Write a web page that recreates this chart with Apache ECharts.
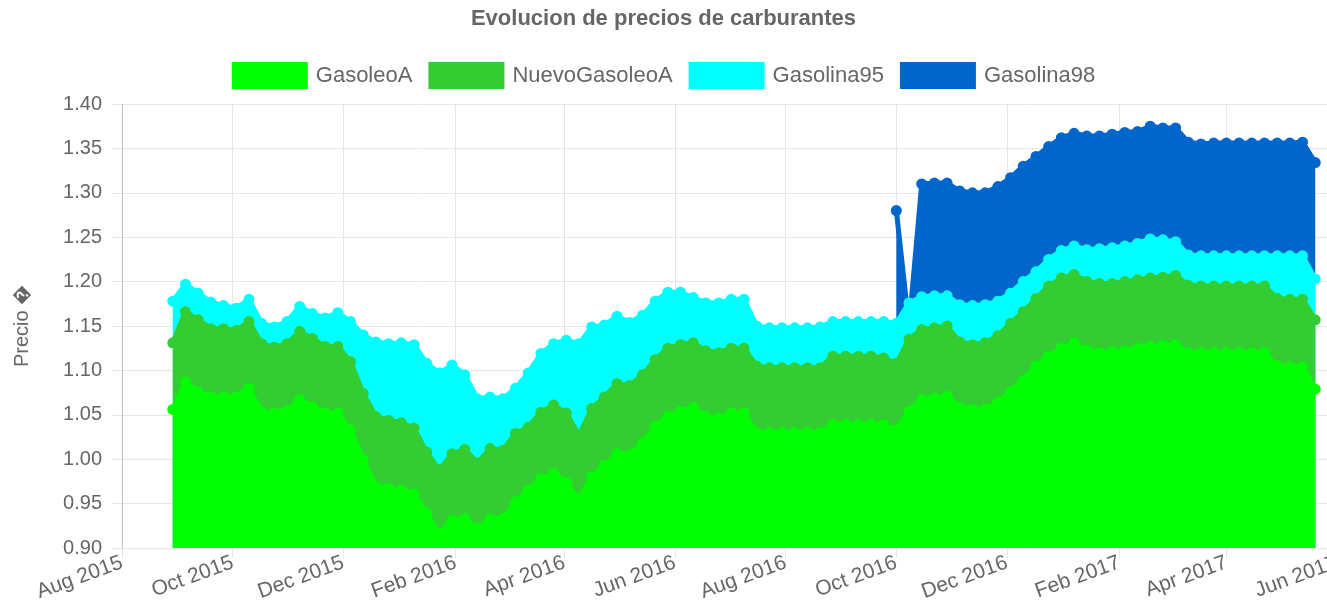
<!DOCTYPE html>
<html>
<head>
<meta charset="utf-8">
<script src="https://cdn.jsdelivr.net/npm/echarts@6/dist/echarts.min.js"></script>
<style>
  html, body { margin: 0; padding: 0; background: #fff; }
  #chart { width: 1327px; height: 605px; }
</style>
</head>
<body>
<div id="chart"></div>
<script>
// Weekly observation dates
const dates = [
  '2015-08-29','2015-09-05','2015-09-12','2015-09-19','2015-09-26','2015-10-03','2015-10-10','2015-10-17','2015-10-24','2015-10-31',
  '2015-11-07','2015-11-14','2015-11-21','2015-11-28','2015-12-05','2015-12-12','2015-12-19','2015-12-26','2016-01-02','2016-01-09',
  '2016-01-16','2016-01-23','2016-01-30','2016-02-06','2016-02-13','2016-02-20','2016-02-27','2016-03-05','2016-03-12','2016-03-19',
  '2016-03-26','2016-04-02','2016-04-09','2016-04-16','2016-04-23','2016-04-30','2016-05-07','2016-05-14','2016-05-21','2016-05-28',
  '2016-06-04','2016-06-11','2016-06-18','2016-06-25','2016-07-02','2016-07-09','2016-07-16','2016-07-23','2016-07-30','2016-08-06',
  '2016-08-13','2016-08-20','2016-08-27','2016-09-03','2016-09-10','2016-09-17','2016-09-24','2016-10-01','2016-10-08','2016-10-15',
  '2016-10-22','2016-10-29','2016-11-05','2016-11-12','2016-11-19','2016-11-26','2016-12-03','2016-12-10','2016-12-17','2016-12-24',
  '2016-12-31','2017-01-07','2017-01-14','2017-01-21','2017-01-28','2017-02-04','2017-02-11','2017-02-18','2017-02-25','2017-03-04',
  '2017-03-11','2017-03-18','2017-03-25','2017-04-01','2017-04-08','2017-04-15','2017-04-22','2017-04-29','2017-05-06','2017-05-13',
  '2017-05-20'
];

const gasoleoA = [
  1.056,1.087,1.076,1.070,1.070,1.070,1.080,1.053,1.052,1.055,
  1.067,1.059,1.052,1.052,1.033,0.999,0.969,0.967,0.965,0.961,
  0.939,0.916,0.931,0.933,0.922,0.933,0.933,0.952,0.965,0.978,
  0.984,0.974,0.954,0.980,0.993,1.006,1.005,1.018,1.037,1.048,
  1.054,1.058,1.048,1.046,1.052,1.052,1.030,1.030,1.030,1.030,
  1.030,1.030,1.039,1.039,1.039,1.039,1.039,1.033,1.054,1.067,
  1.069,1.071,1.058,1.056,1.056,1.064,1.076,1.089,1.105,1.116,
  1.125,1.131,1.123,1.120,1.121,1.122,1.125,1.127,1.128,1.129,
  1.120,1.120,1.120,1.120,1.120,1.120,1.120,1.105,1.104,1.104,
  1.079
];

const nuevoGasoleoA = [
  1.131,1.166,1.157,1.147,1.147,1.145,1.155,1.130,1.126,1.130,
  1.144,1.136,1.127,1.127,1.110,1.074,1.048,1.044,1.041,1.035,
  1.008,0.988,1.006,1.011,0.996,1.012,1.010,1.029,1.036,1.053,
  1.061,1.052,1.027,1.057,1.070,1.085,1.083,1.095,1.112,1.125,
  1.129,1.131,1.122,1.120,1.125,1.125,1.105,1.103,1.103,1.103,
  1.103,1.103,1.116,1.116,1.116,1.116,1.114,1.108,1.135,1.146,
  1.148,1.150,1.132,1.129,1.131,1.139,1.153,1.166,1.181,1.195,
  1.204,1.208,1.200,1.198,1.198,1.200,1.202,1.204,1.205,1.207,
  1.196,1.195,1.195,1.195,1.195,1.195,1.195,1.181,1.180,1.180,
  1.157
];

const gasolina95 = [
  1.178,1.197,1.187,1.177,1.173,1.170,1.180,1.153,1.149,1.155,
  1.172,1.164,1.159,1.165,1.155,1.140,1.132,1.130,1.131,1.129,
  1.108,1.097,1.106,1.095,1.068,1.070,1.068,1.080,1.097,1.119,
  1.130,1.134,1.130,1.149,1.151,1.161,1.154,1.162,1.178,1.188,
  1.188,1.182,1.176,1.176,1.180,1.180,1.150,1.148,1.148,1.148,
  1.148,1.149,1.155,1.155,1.155,1.155,1.155,1.153,1.176,1.183,
  1.184,1.184,1.174,1.173,1.174,1.178,1.187,1.200,1.211,1.225,
  1.235,1.240,1.236,1.237,1.238,1.240,1.243,1.248,1.247,1.245,
  1.230,1.229,1.229,1.229,1.229,1.229,1.229,1.229,1.229,1.229,
  1.203
];

const gasolina98 = [
  null,null,null,null,null,null,null,null,null,null,
  null,null,null,null,null,null,null,null,null,null,
  null,null,null,null,null,null,null,null,null,null,
  null,null,null,null,null,null,null,null,null,null,
  null,null,null,null,null,null,null,null,null,null,
  null,null,null,null,null,null,null,1.280,1.150,1.310,
  1.311,1.311,1.302,1.300,1.300,1.307,1.317,1.330,1.341,1.352,
  1.362,1.367,1.364,1.364,1.366,1.368,1.369,1.375,1.373,1.373,
  1.357,1.355,1.356,1.356,1.356,1.356,1.356,1.356,1.356,1.357,
  1.334
];

// X axis tick dates and labels
const tickDates = ['2015-08-01','2015-10-01','2015-12-01','2016-02-01','2016-04-01','2016-06-01',
                   '2016-08-01','2016-10-01','2016-12-01','2017-02-01','2017-04-01','2017-06-01'];
const tickLabels = ['Aug 2015','Oct 2015','Dec 2015','Feb 2016','Apr 2016','Jun 2016',
                    'Aug 2016','Oct 2016','Dec 2016','Feb 2017','Apr 2017','Jun 2017'];

const seriesNames = ['GasoleoA','NuevoGasoleoA','Gasolina95','Gasolina98'];
const seriesColors = ['#00ff00','#33cc33','#00ffff','#0066cc'];

function ts(s) {
  const p = s.split('-').map(Number);
  return Date.UTC(p[0], p[1] - 1, p[2]);
}
const tickTs = tickDates.map(ts);
const labelByTs = {};
tickTs.forEach((t, i) => { labelByTs[t] = tickLabels[i]; });

function pairs(values) {
  return dates.map((d, i) => [ts(d), values[i] == null ? null : values[i]]);
}

const valueSets = [gasoleoA, nuevoGasoleoA, gasolina95, gasolina98];
const FONT = '"Liberation Sans", Arial, Helvetica, sans-serif';

// draw order: Gasolina98 at back, GasoleoA on top
const series = [3, 2, 1, 0].map((k) => ({
  name: seriesNames[k],
  type: 'line',
  z: 4 - k,
  data: pairs(valueSets[k]),
  symbol: 'circle',
  symbolSize: 11,
  showSymbol: true,
  showAllSymbol: true,
  connectNulls: false,
  lineStyle: { color: seriesColors[k], width: 5 },
  itemStyle: { color: seriesColors[k], borderWidth: 0 },
  areaStyle: { color: seriesColors[k], opacity: 1, origin: 'start' },
  emphasis: { disabled: true },
  animation: false
}));

const chart = echarts.init(document.getElementById('chart'), null, { renderer: 'canvas' });
chart.setOption({
  animation: false,
  backgroundColor: '#ffffff',
  title: {
    text: 'Evolucion de precios de carburantes',
    left: 'center',
    top: 8,
    padding: 0,
    textStyle: { fontFamily: FONT, fontSize: 22, fontWeight: 'bold', color: '#666666' }
  },
  legend: {
    data: seriesNames,
    top: 62,
    left: 'center',
    padding: 0,
    icon: 'rect',
    itemWidth: 76,
    itemHeight: 27,
    itemGap: 16,
    selectedMode: false,
    textStyle: { fontFamily: FONT, fontSize: 22, color: '#666666', padding: [0, 0, 0, 3] }
  },
  grid: { left: 122, right: -10, top: 104, bottom: 57, containLabel: false, outerBoundsMode: 'none' },
  xAxis: {
    type: 'value',
    min: tickTs[0],
    max: tickTs[tickTs.length - 1],
    axisLine: { show: true, lineStyle: { color: '#e6e6e6', width: 1 } },
    axisTick: { show: true, length: 10, customValues: tickTs, lineStyle: { color: '#e6e6e6' } },
    splitLine: { show: true, lineStyle: { color: '#e6e6e6', width: 1 } },
    axisLabel: {
      customValues: tickTs,
      rotate: 20,
      margin: 14,
      fontFamily: FONT,
      fontSize: 21,
      color: '#666666',
      hideOverlap: false,
      formatter: (v) => labelByTs[v] || ''
    }
  },
  yAxis: {
    type: 'value',
    min: 0.9,
    max: 1.4,
    interval: 0.05,
    name: 'Precio \uFFFD',
    nameLocation: 'middle',
    nameGap: 90,
    nameTextStyle: { fontFamily: FONT, fontSize: 20, color: '#666666' },
    axisLine: { show: true, lineStyle: { color: '#bfbfbf', width: 1 } },
    axisTick: { show: true, length: 10, lineStyle: { color: '#e6e6e6' } },
    splitLine: { show: true, lineStyle: { color: '#e6e6e6', width: 1 } },
    axisLabel: {
      margin: 20,
      fontFamily: FONT,
      fontSize: 20,
      color: '#666666',
      formatter: (v) => v.toFixed(2)
    }
  },
  series: series
});
</script>
</body>
</html>
